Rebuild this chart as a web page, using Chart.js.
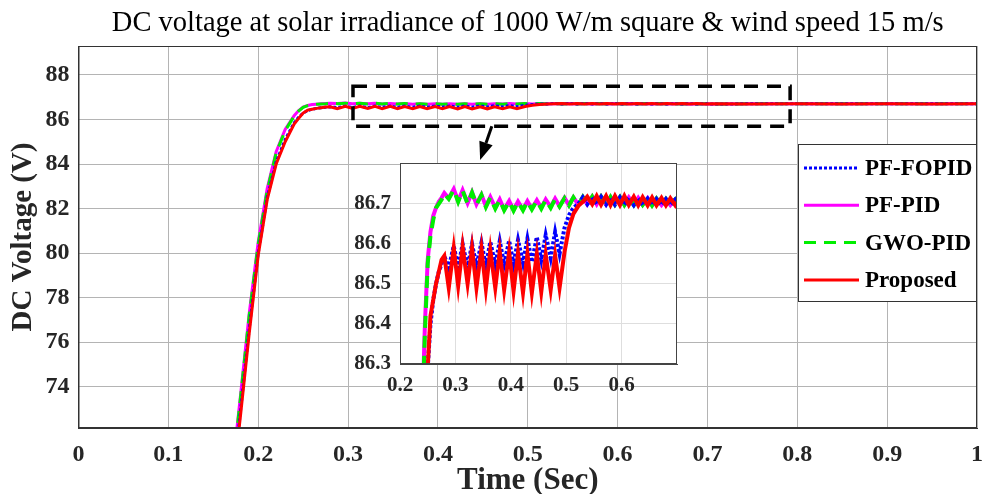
<!DOCTYPE html>
<html>
<head>
<meta charset="utf-8">
<script src="https://cdn.jsdelivr.net/npm/chart.js@4.4.1/dist/chart.umd.min.js"></script>
<style>
  html, body { margin: 0; padding: 0; background: #fff; }
  #wrap { position: relative; width: 985px; height: 494px; }
  #mainChart { position: absolute; left: 0; top: 0; }
  #insetChart { position: absolute; left: 330px; top: 150px; }
</style>
</head>
<body>
<div id="wrap">
  <canvas id="mainChart" width="985" height="494"></canvas>
  <canvas id="insetChart" width="360" height="250"></canvas>
</div>
<script>
// time axis (s)
const timeSec = [
  0.17, 0.18, 0.19, 0.20, 0.21, 0.22, 0.23, 0.24, 0.245, 0.25, 0.255, 0.26, 0.265, 0.27, 0.275,
  0.280, 0.288, 0.297, 0.305, 0.313, 0.322, 0.330, 0.338, 0.347, 0.355,
  0.363, 0.372, 0.380, 0.388, 0.397, 0.405, 0.413, 0.422, 0.430, 0.438,
  0.447, 0.455, 0.463, 0.472, 0.480, 0.488, 0.497, 0.505, 0.513, 0.522,
  0.530, 0.538, 0.547, 0.555, 0.563, 0.572, 0.580, 0.588, 0.597, 0.605,
  0.613, 0.622, 0.630, 0.638, 0.647, 0.655, 0.663, 0.672, 0.680, 0.688,
  0.697, 0.705,
  0.75, 0.80, 0.85, 0.90, 0.95, 1.00
];

// DC voltage (V) for each controller
const pfFopid = [
  69.1, 72.8, 76.6, 80.0, 82.5, 84.1, 85.1, 85.85, 86.10, 86.29, 86.40, 86.46, 86.50, 86.53, 86.55,
  86.570, 86.540, 86.595, 86.540, 86.600, 86.540, 86.600, 86.545, 86.603, 86.545,
  86.605, 86.548, 86.607, 86.550, 86.608, 86.550, 86.610, 86.552, 86.613, 86.555,
  86.617, 86.560, 86.622, 86.565, 86.630, 86.575, 86.640, 86.672, 86.690, 86.700,
  86.716, 86.699, 86.717, 86.699, 86.717, 86.698, 86.716, 86.698, 86.716, 86.698,
  86.715, 86.697, 86.714, 86.697, 86.713, 86.697, 86.712, 86.697, 86.712, 86.697,
  86.711, 86.698,
  86.704, 86.704, 86.704, 86.704, 86.704, 86.704
];
const pfPid = [
  69.8, 73.5, 77.3, 80.5, 82.9, 84.55, 85.55, 86.17, 86.40, 86.56, 86.63, 86.67, 86.69, 86.705, 86.715,
  86.727, 86.714, 86.737, 86.707, 86.734, 86.702, 86.729, 86.699, 86.723, 86.694,
  86.717, 86.690, 86.711, 86.686, 86.707, 86.685, 86.706, 86.686, 86.707, 86.688,
  86.709, 86.690, 86.711, 86.692, 86.713, 86.694, 86.715, 86.697, 86.716, 86.698,
  86.717, 86.699, 86.718, 86.699, 86.718, 86.699, 86.717, 86.699, 86.716, 86.698,
  86.716, 86.698, 86.715, 86.698, 86.714, 86.697, 86.713, 86.697, 86.712, 86.697,
  86.711, 86.698,
  86.706, 86.706, 86.706, 86.706, 86.706, 86.706
];
const gwoPid = [
  69.7, 73.4, 77.2, 80.4, 82.8, 84.5, 85.5, 86.15, 86.38, 86.55, 86.62, 86.66, 86.69, 86.70, 86.71,
  86.725, 86.712, 86.735, 86.705, 86.733, 86.700, 86.728, 86.698, 86.722, 86.692,
  86.716, 86.688, 86.710, 86.684, 86.706, 86.683, 86.705, 86.684, 86.706, 86.686,
  86.708, 86.688, 86.710, 86.690, 86.712, 86.693, 86.714, 86.696, 86.716, 86.697,
  86.717, 86.698, 86.718, 86.698, 86.718, 86.698, 86.717, 86.698, 86.717, 86.697,
  86.716, 86.697, 86.715, 86.697, 86.714, 86.696, 86.713, 86.696, 86.712, 86.696,
  86.711, 86.697,
  86.705, 86.705, 86.705, 86.705, 86.705, 86.705
];
const proposed = [
  69.0, 72.6, 76.4, 79.9, 82.4, 84.0, 85.0, 85.8, 86.05, 86.29, 86.42, 86.46, 86.50, 86.53, 86.56,
  86.570, 86.490, 86.590, 86.495, 86.593, 86.500, 86.590, 86.490, 86.588, 86.488,
  86.585, 86.490, 86.582, 86.485, 86.580, 86.482, 86.578, 86.478, 86.576, 86.478,
  86.575, 86.480, 86.574, 86.485, 86.572, 86.490, 86.580, 86.640, 86.675, 86.695,
  86.705, 86.718, 86.699, 86.720, 86.698, 86.720, 86.697, 86.720, 86.697, 86.720,
  86.697, 86.718, 86.696, 86.717, 86.696, 86.716, 86.696, 86.715, 86.696, 86.714,
  86.696, 86.712,
  86.700, 86.710, 86.700, 86.710, 86.700, 86.705
];

const mainXTicks = [0, 0.1, 0.2, 0.3, 0.4, 0.5, 0.6, 0.7, 0.8, 0.9, 1];
const mainYTicks = [74, 76, 78, 80, 82, 84, 86, 88];
const insetXTicks = [0.2, 0.3, 0.4, 0.5, 0.6];
const insetYTicks = [86.3, 86.4, 86.5, 86.6, 86.7];

// zoom window marked on the main plot and the arrow to the inset (data units)
const zoomBox = { t0: 0.3055, t1: 0.792, vLow: 85.70, vHigh: 87.49 };
const arrowFrom = { t: 0.46, v: 85.70 };
const arrowTo = { t: 0.447, v: 84.18 };

const SERIF = "'Liberation Serif', 'Times New Roman', serif";
const TXT = '#262626';

const series = [
  { label: 'PF-FOPID', data: pfFopid, color: '#0000ff', dash: [3, 2], order: 1 },
  { label: 'PF-PID', data: pfPid, color: '#ff00ff', dash: [], order: 3 },
  { label: 'GWO-PID', data: gwoPid, color: '#00ee00', dash: [12, 8], order: 2 },
  { label: 'Proposed', data: proposed, color: '#ff0000', dash: [], order: 0 }
];

function makeSets(width) {
  return series.map(s => ({
    label: s.label,
    data: timeSec.map((t, i) => ({ x: t, y: s.data[i] })),
    borderColor: s.color,
    borderDash: s.dash,
    borderWidth: width,
    pointRadius: 0,
    tension: 0,
    fill: false,
    order: s.order
  }));
}

// keep the plot box exactly where the axis sizes put it
function fixX(h) {
  return s => { s.height = h; s.paddingLeft = 0; s.paddingRight = 0; };
}
function fixY(w) {
  return s => { s.width = w; s.paddingTop = 0; s.paddingBottom = 0; };
}

const mainDecor = {
  id: 'mainDecor',
  beforeDraw(chart) {
    const ctx = chart.ctx;
    ctx.save();
    ctx.fillStyle = '#fff';
    ctx.fillRect(0, 0, chart.width, chart.height);
    ctx.restore();
  },
  afterDatasetsDraw(chart) {
    const { ctx, chartArea: a, scales: { x, y } } = chart;
    ctx.save();
    // axes frame
    ctx.strokeStyle = '#333';
    ctx.lineWidth = 1;
    ctx.strokeRect(a.left + 0.5, a.top + 0.5, a.right - a.left - 1, a.bottom - a.top - 1);

    // dashed zoom window
    const bx0 = x.getPixelForValue(zoomBox.t0), bx1 = x.getPixelForValue(zoomBox.t1);
    const by0 = y.getPixelForValue(zoomBox.vHigh), by1 = y.getPixelForValue(zoomBox.vLow);
    ctx.strokeStyle = '#000';
    ctx.lineWidth = 3.5;
    ctx.setLineDash([14, 9]);
    ctx.strokeRect(bx0, by0, bx1 - bx0, by1 - by0);
    ctx.setLineDash([]);

    // arrow
    const ax0 = x.getPixelForValue(arrowFrom.t), ay0 = y.getPixelForValue(arrowFrom.v);
    const ax1 = x.getPixelForValue(arrowTo.t), ay1 = y.getPixelForValue(arrowTo.v);
    const ang = Math.atan2(ay1 - ay0, ax1 - ax0);
    const hl = 18, hw = 7;
    const bxm = ax1 - hl * Math.cos(ang), bym = ay1 - hl * Math.sin(ang);
    ctx.lineWidth = 3;
    ctx.beginPath();
    ctx.moveTo(ax0, ay0);
    ctx.lineTo(bxm, bym);
    ctx.stroke();
    ctx.fillStyle = '#000';
    ctx.beginPath();
    ctx.moveTo(ax1, ay1);
    ctx.lineTo(bxm + hw * Math.sin(ang), bym - hw * Math.cos(ang));
    ctx.lineTo(bxm - hw * Math.sin(ang), bym + hw * Math.cos(ang));
    ctx.closePath();
    ctx.fill();

    // legend box
    const lx1 = a.right, lx0 = a.right - 179, ly0 = a.top + 98, ly1 = a.top + 256;
    ctx.fillStyle = '#fff';
    ctx.fillRect(lx0, ly0, lx1 - lx0, ly1 - ly0);
    ctx.strokeStyle = '#333';
    ctx.lineWidth = 1;
    ctx.strokeRect(lx0 + 0.5, ly0 + 0.5, lx1 - lx0 - 1, ly1 - ly0 - 1);
    ctx.font = 'bold 23px ' + SERIF;
    ctx.textBaseline = 'middle';
    ctx.textAlign = 'left';
    series.forEach((s, i) => {
      const yy = ly0 + 24 + i * 37.3;
      ctx.strokeStyle = s.color;
      ctx.lineWidth = 3;
      ctx.setLineDash(s.dash);
      ctx.beginPath();
      ctx.moveTo(lx0 + 6, yy);
      ctx.lineTo(lx0 + 61, yy);
      ctx.stroke();
      ctx.setLineDash([]);
      ctx.fillStyle = '#000';
      ctx.fillText(s.label, lx0 + 67, yy + 1);
    });
    ctx.restore();
  }
};

new Chart(document.getElementById('mainChart'), {
  type: 'line',
  data: { datasets: makeSets(3) },
  options: {
    responsive: false,
    animation: false,
    layout: { padding: { left: 0, right: 8, top: 0, bottom: 0 } },
    plugins: {
      legend: { display: false },
      tooltip: { enabled: false },
      title: {
        display: true,
        fullSize: false,
        text: 'DC voltage at solar irradiance of 1000 W/m square & wind speed 15 m/s',
        color: '#000',
        font: { family: SERIF, size: 28.5, weight: 'normal', lineHeight: 1.2 },
        padding: { top: 6, bottom: 5.8 }
      }
    },
    scales: {
      x: {
        type: 'linear',
        min: 0,
        max: 1,
        afterBuildTicks: s => { s.ticks = mainXTicks.map(v => ({ value: v })); },
        afterFit: fixX(66),
        grid: { color: '#b4b4b4', drawTicks: false },
        border: { color: '#333' },
        ticks: { color: TXT, padding: 12, font: { family: SERIF, size: 24, weight: 'bold' }, callback: v => String(v) },
        title: { display: true, text: 'Time (Sec)', color: TXT, font: { family: SERIF, size: 31, weight: 'bold', lineHeight: 1 }, padding: { top: 0, bottom: -2 } }
      },
      y: {
        min: 72.15,
        max: 89.3,
        afterBuildTicks: s => { s.ticks = mainYTicks.map(v => ({ value: v })); },
        afterFit: fixY(78.5),
        grid: { color: '#b4b4b4', drawTicks: false },
        border: { color: '#333' },
        ticks: { color: TXT, padding: 9, font: { family: SERIF, size: 24, weight: 'bold' }, callback: v => String(v) },
        title: { display: true, text: 'DC Voltage (V)', color: TXT, font: { family: SERIF, size: 29, weight: 'bold', lineHeight: 1.2 }, padding: { top: 6, bottom: 0 } }
      }
    }
  },
  plugins: [mainDecor]
});

const insetDecor = {
  id: 'insetDecor',
  beforeDraw(chart) {
    const { ctx, chartArea: a } = chart;
    ctx.save();
    ctx.fillStyle = '#fff';
    ctx.fillRect(a.left, a.top, a.right - a.left, a.bottom - a.top);
    ctx.restore();
  },
  afterDatasetsDraw(chart) {
    const { ctx, chartArea: a } = chart;
    ctx.save();
    ctx.strokeStyle = '#444';
    ctx.lineWidth = 1;
    ctx.strokeRect(a.left + 0.5, a.top + 0.5, a.right - a.left - 1, a.bottom - a.top - 1);
    ctx.restore();
  }
};

new Chart(document.getElementById('insetChart'), {
  type: 'line',
  data: { datasets: makeSets(4) },
  options: {
    responsive: false,
    animation: false,
    layout: { padding: { left: 0, right: 13, top: 13, bottom: 0 } },
    plugins: { legend: { display: false }, tooltip: { enabled: false } },
    scales: {
      x: {
        type: 'linear',
        min: 0.2,
        max: 0.7,
        afterBuildTicks: s => { s.ticks = insetXTicks.map(v => ({ value: v })); },
        afterFit: fixX(36),
        grid: { color: '#dedede', drawTicks: false },
        border: { color: '#444' },
        ticks: { color: TXT, padding: 9, font: { family: SERIF, size: 21, weight: 'bold' }, callback: v => v.toFixed(1) }
      },
      y: {
        min: 86.3,
        max: 86.802,
        afterBuildTicks: s => { s.ticks = insetYTicks.map(v => ({ value: v })); },
        afterFit: fixY(70),
        grid: { color: '#dedede', drawTicks: false },
        border: { color: '#444' },
        ticks: { color: TXT, padding: 9, font: { family: SERIF, size: 21, weight: 'bold' }, callback: v => v.toFixed(1) }
      }
    }
  },
  plugins: [insetDecor]
});
</script>
</body>
</html>
